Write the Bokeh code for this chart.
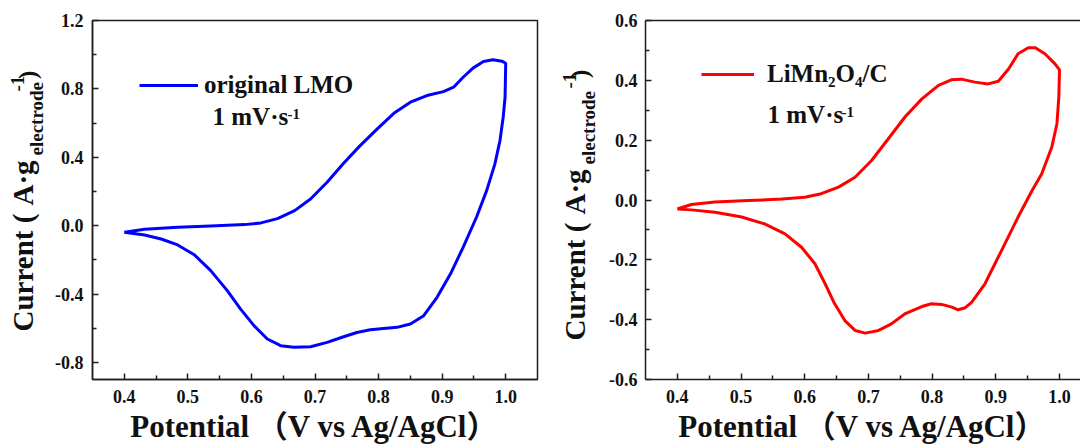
import math
from bokeh.plotting import figure
from bokeh.core.properties import value
from bokeh.models import (FixedTicker, PrintfTickFormatter, Label, Legend,
                          LegendItem, LinearAxis, Range1d)
from bokeh.layouts import row
from bokeh.embed import file_html
from bokeh.resources import INLINE

# ---------------- data ----------------
potential_lmo = [0.400, 0.432, 0.484, 0.536, 0.589, 0.615, 0.641, 0.668, 0.693,
                 0.719, 0.745, 0.771, 0.798, 0.824, 0.850, 0.876, 0.902, 0.918,
                 0.933, 0.949, 0.965, 0.980, 0.994, 1.000,
                 0.999, 0.996, 0.991, 0.983, 0.970, 0.954, 0.933, 0.913, 0.892,
                 0.871, 0.850, 0.829, 0.808, 0.787, 0.766, 0.745, 0.719, 0.693,
                 0.667, 0.646, 0.625, 0.604, 0.583, 0.562, 0.536, 0.510, 0.484,
                 0.458, 0.432, 0.400]
current_lmo = [-0.039, -0.021, -0.010, -0.002, 0.006, 0.016, 0.041, 0.088, 0.156,
               0.254, 0.365, 0.468, 0.566, 0.657, 0.722, 0.761, 0.784, 0.810,
               0.868, 0.923, 0.960, 0.970, 0.962, 0.950,
               0.751, 0.634, 0.498, 0.361, 0.205, 0.049, -0.127, -0.283, -0.419,
               -0.527, -0.575, -0.595, -0.601, -0.609, -0.625, -0.650, -0.683, -0.708,
               -0.712, -0.702, -0.663, -0.585, -0.488, -0.380, -0.263, -0.170, -0.113,
               -0.078, -0.055, -0.039]

potential_c = [0.400, 0.422, 0.459, 0.511, 0.564, 0.600, 0.626, 0.653, 0.679,
               0.705, 0.731, 0.758, 0.784, 0.810, 0.831, 0.846, 0.867, 0.888,
               0.904, 0.920, 0.935, 0.951, 0.962, 0.977, 0.993, 1.000,
               0.999, 0.996, 0.988, 0.972, 0.957, 0.935, 0.909, 0.883, 0.862,
               0.852, 0.841, 0.831, 0.815, 0.799, 0.784, 0.757, 0.736, 0.716,
               0.695, 0.679, 0.663, 0.647, 0.632, 0.616, 0.595, 0.569, 0.537,
               0.501, 0.459, 0.422, 0.400]
current_c = [-0.030, -0.015, -0.007, -0.002, 0.003, 0.009, 0.021, 0.043, 0.076,
             0.132, 0.204, 0.279, 0.338, 0.383, 0.402, 0.404, 0.394, 0.388,
             0.397, 0.438, 0.489, 0.509, 0.509, 0.489, 0.455, 0.435,
             0.344, 0.255, 0.177, 0.087, 0.032, -0.057, -0.169, -0.280, -0.342,
             -0.360, -0.367, -0.358, -0.349, -0.347, -0.356, -0.381, -0.414, -0.436,
             -0.445, -0.436, -0.403, -0.347, -0.280, -0.213, -0.158, -0.113, -0.080,
             -0.057, -0.041, -0.033, -0.030]

x_major = [0.4, 0.5, 0.6, 0.7, 0.8, 0.9, 1.0]
x_minor = [0.45, 0.55, 0.65, 0.75, 0.85, 0.95]
y_major_lmo = [-0.8, -0.4, 0.0, 0.4, 0.8, 1.2]
y_minor_lmo = [-0.6, -0.2, 0.2, 0.6, 1.0]
y_major_c = [-0.6, -0.4, -0.2, 0.0, 0.2, 0.4, 0.6]
y_minor_c = [-0.5, -0.3, -0.1, 0.1, 0.3, 0.5]

name_lmo = "original LMO"
name_c = "LiMn\u2082O\u2084/C"
rate_text = "1 mV\u00b7s"
sup_text = "-1"
x_title = "Potential \uff08V vs Ag/AgCl\uff09"
y_title_parts = ["Current (", "A\u00b7g", "electrode", "-1", ")"]

SERIF = "Liberation Serif"
AX = "#1e1e1e"
TXT = "#111111"
K = 0.38        # text baseline correction (fraction of font size)
FRAME_H = 358.5  # frame height shared by the row


def style_axis(ax, major, minor, size="18px", standoff=9):
    ax.ticker = FixedTicker(ticks=major, minor_ticks=minor)
    ax.formatter = PrintfTickFormatter(format="%.1f")
    ax.axis_line_color = AX
    ax.axis_line_width = 1.5
    ax.major_tick_line_color = AX
    ax.minor_tick_line_color = AX
    ax.major_tick_line_width = 1.5
    ax.minor_tick_line_width = 1.5
    ax.major_tick_in = 6
    ax.major_tick_out = 0
    ax.minor_tick_in = 4
    ax.minor_tick_out = 0
    ax.major_label_text_font = SERIF
    ax.major_label_text_font_style = "bold"
    ax.major_label_text_font_size = size
    ax.major_label_text_color = TXT
    ax.major_label_standoff = standoff


def lab(p, text, x, y, size, rotated=False):
    # (x, y): start of the baseline, in frame pixels from the bottom-left
    if rotated:
        x, angle = x - K * size, math.pi / 2
    else:
        y, angle = y + K * size, 0.0
    p.add_layout(Label(x=x, y=y, x_units="screen", y_units="screen", text=text,
                       angle=angle, text_font=SERIF, text_font_style="bold",
                       text_font_size=f"{size}px", text_color=TXT,
                       text_align="left", text_baseline="alphabetic"))


def title_fig(width, xb, y0, d_sup, d_close):
    t = figure(width=width, height=447, x_range=Range1d(0, width),
               y_range=Range1d(0, FRAME_H),
               x_axis_type=None, y_axis_type=None, output_backend="svg",
               toolbar_location=None, min_border=0, outline_line_color=None)
    t.grid.visible = False
    main, ag, sub, sup, close = y_title_parts
    lab(t, main, xb, y0, 29, True)
    lab(t, ag, xb, y0 + 126, 29, True)
    lab(t, sub, xb + 9, y0 + 176, 19, True)
    lab(t, sup, xb - 10, y0 + d_sup, 19, True)
    t.text(x=[xb + 2 - K * 25], y=[y0 + d_close], text=[close], angle=math.pi / 2,
           text_font=value(SERIF), text_font_style="bold", text_font_size="25px",
           text_color=TXT, text_align="left", text_baseline="alphabetic")
    return t


def make_fig(width, xr, yr, left, right):
    p = figure(width=width, height=447, x_range=Range1d(*xr), y_range=Range1d(*yr),
               output_backend="svg", toolbar_location=None,
               min_border_left=left, min_border_right=right,
               min_border_top=20, min_border_bottom=68)
    p.grid.visible = False
    p.xaxis.axis_label = x_title
    p.xaxis.axis_label_text_font = SERIF + ", Noto Sans CJK SC"
    p.xaxis.axis_label_text_font_style = "bold"
    p.xaxis.axis_label_text_font_size = "31px"
    p.xaxis.axis_label_text_color = TXT
    p.xaxis.axis_label_standoff = 3
    return p


# ---------------- left: original LMO ----------------
t1 = title_fig(46, 34, 48, 240, 252)
p1 = make_fig(494, (0.35, 1.05), (-0.9, 1.2), 46, 3)
p1.outline_line_color = AX
p1.outline_line_width = 1.5
style_axis(p1.xaxis[0], x_major, x_minor, standoff=10)
style_axis(p1.yaxis[0], y_major_lmo, y_minor_lmo, standoff=9)
r1 = p1.line(potential_lmo, current_lmo, line_color="#0000ff", line_width=3)
leg1 = Legend(items=[LegendItem(label=name_lmo, renderers=[r1])], location=(47, 280),
              padding=0, margin=0, spacing=0, glyph_width=59, glyph_height=20,
              label_standoff=6, label_text_font=SERIF, label_text_font_style="bold",
              label_text_font_size="25px", label_text_color=TXT,
              background_fill_alpha=0, border_line_alpha=0)
p1.add_layout(leg1)
lab(p1, rate_text, 120, 253.5, 25)
lab(p1, sup_text, 195, 259.5, 15)

# ---------------- right: LiMn2O4/C ----------------
t2 = title_fig(58, 46, 39, 252, 262)
p2 = make_fig(482, (0.350, 1.033), (-0.6, 0.6), 47, 0)
p2.outline_line_color = None
style_axis(p2.xaxis[0], x_major, x_minor, standoff=10)
style_axis(p2.yaxis[0], y_major_c, y_minor_c, standoff=8)
top = LinearAxis(ticker=FixedTicker(ticks=[]), major_label_text_font_size="0px",
                 axis_line_color=AX, axis_line_width=1.5,
                 major_tick_line_color=None, minor_tick_line_color=None)
p2.add_layout(top, "above")
r2 = p2.line(potential_c, current_c, line_color="#ff0000", line_width=3)
leg2 = Legend(items=[LegendItem(label=name_c, renderers=[r2])], location=(56, 291),
              padding=0, margin=0, spacing=0, glyph_width=53, glyph_height=20,
              label_standoff=13, label_text_font=SERIF, label_text_font_style="bold",
              label_text_font_size="25px", label_text_color=TXT,
              background_fill_alpha=0, border_line_alpha=0)
p2.add_layout(leg2)
lab(p2, rate_text, 122, 255.5, 25)
lab(p2, sup_text, 196, 261.5, 15)

layout = row(t1, p1, t2, p2)
open("out.html", "w").write(file_html(layout, INLINE))
